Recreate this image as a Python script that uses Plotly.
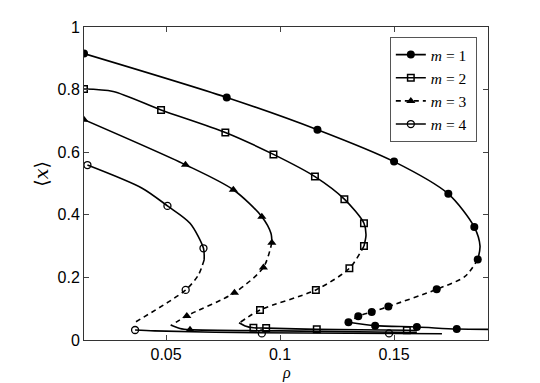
import plotly.graph_objects as go

# ---------------- data ----------------
# m = 1
m1_up_rho = [0.0140, 0.0766, 0.1164, 0.1500, 0.1738, 0.1852, 0.1877, 0.1867]
m1_up_x = [0.915, 0.775, 0.672, 0.570, 0.467, 0.361, 0.300, 0.257]
m1_mid_rho = [0.1867, 0.1811, 0.1687, 0.1475, 0.1402, 0.1343, 0.1300]
m1_mid_x = [0.257, 0.203, 0.162, 0.107, 0.0895, 0.0757, 0.0565]
m1_low_rho = [0.1300, 0.1417, 0.1600, 0.1775, 0.1912]
m1_low_x = [0.0565, 0.0458, 0.0416, 0.0350, 0.0340]
m1_mk_rho = [0.0140, 0.0766, 0.1164, 0.1500, 0.1738, 0.1852, 0.1867,
             0.1687, 0.1475, 0.1402, 0.1343, 0.1300, 0.1417, 0.1600, 0.1775]
m1_mk_x = [0.915, 0.775, 0.672, 0.570, 0.467, 0.361, 0.257,
           0.162, 0.107, 0.0895, 0.0757, 0.0565, 0.0458, 0.0416, 0.0350]

# m = 2
m2_up_rho = [0.0140, 0.0268, 0.0478, 0.0760, 0.0971, 0.1153, 0.1282, 0.1368, 0.1377, 0.1368]
m2_up_x = [0.802, 0.794, 0.735, 0.663, 0.593, 0.522, 0.450, 0.373, 0.336, 0.300]
m2_mid_rho = [0.1368, 0.1304, 0.1157, 0.0912, 0.0822]
m2_mid_x = [0.300, 0.229, 0.160, 0.096, 0.055]
m2_low_rho = [0.0820, 0.0847, 0.0883, 0.0939, 0.1161, 0.1556, 0.1600]
m2_low_x = [0.055, 0.045, 0.039, 0.038, 0.034, 0.031, 0.030]
m2_mk_rho = [0.0140, 0.0478, 0.0760, 0.0971, 0.1153, 0.1282, 0.1368, 0.1368,
             0.1304, 0.1157, 0.0912, 0.0883, 0.0939, 0.1161, 0.1556]
m2_mk_x = [0.802, 0.735, 0.663, 0.593, 0.522, 0.450, 0.373, 0.300,
           0.229, 0.160, 0.096, 0.039, 0.038, 0.034, 0.031]

# m = 3
m3_up_rho = [0.0140, 0.0585, 0.0795, 0.0920, 0.0960, 0.0964]
m3_up_x = [0.704, 0.560, 0.480, 0.394, 0.341, 0.311]
m3_mid_rho = [0.0964, 0.0927, 0.0800, 0.0591, 0.0525]
m3_mid_x = [0.311, 0.232, 0.151, 0.077, 0.048]
m3_low_rho = [0.0520, 0.0561, 0.0605, 0.1000, 0.1600]
m3_low_x = [0.048, 0.037, 0.033, 0.029, 0.024]
m3_mk_rho = [0.0140, 0.0585, 0.0795, 0.0920, 0.0964, 0.0927, 0.0800, 0.0591, 0.0605]
m3_mk_x = [0.704, 0.560, 0.480, 0.394, 0.311, 0.232, 0.151, 0.077, 0.033]

# m = 4
m4_up_rho = [0.0155, 0.0395, 0.0506, 0.0605, 0.0664, 0.0667]
m4_up_x = [0.559, 0.485, 0.4285, 0.373, 0.293, 0.256]
m4_mid_rho = [0.0667, 0.0642, 0.0586, 0.0368]
m4_mid_x = [0.256, 0.208, 0.160, 0.0585]
m4_low_rho = [0.0364, 0.0450, 0.0900, 0.1710]
m4_low_x = [0.032, 0.029, 0.023, 0.020]
m4_mk_rho = [0.0155, 0.0506, 0.0664, 0.0586, 0.0364, 0.0920, 0.1478]
m4_mk_x = [0.559, 0.4285, 0.293, 0.160, 0.032, 0.021, 0.021]

x_ticks = [0.05, 0.1, 0.15]
x_ticklabels = ["0.05", "0.1", "0.15"]
y_ticks = [0, 0.2, 0.4, 0.6, 0.8, 1.0]
y_ticklabels = ["0", "0.2", "0.4", "0.6", "0.8", "1"]
legend_names = ["<i>m</i> = 1\u00a0", "<i>m</i> = 2\u00a0", "<i>m</i> = 3\u00a0", "<i>m</i> = 4\u00a0"]

# ---------------- figure ----------------
fig = go.Figure()
LW = 1.6
DASH = "5px,4px"


def curve(x, y, dash="solid"):
    fig.add_trace(go.Scatter(x=x, y=y, mode="lines", showlegend=False,
                             line=dict(color="black", width=LW, dash=dash,
                                       shape="spline", smoothing=0.8),
                             hoverinfo="skip"))


def marks(x, y, symbol, size, lw):
    fig.add_trace(go.Scatter(x=x, y=y, mode="markers", showlegend=False,
                             marker=dict(symbol=symbol, size=size, color="black",
                                         line=dict(color="black", width=lw)),
                             hoverinfo="skip"))


series = [
    (m1_up_rho, m1_up_x, m1_mid_rho, m1_mid_x, m1_low_rho, m1_low_x, m1_mk_rho, m1_mk_x, "circle", 8, 0),
    (m2_up_rho, m2_up_x, m2_mid_rho, m2_mid_x, m2_low_rho, m2_low_x, m2_mk_rho, m2_mk_x, "square-open", 6.5, 1.5),
    (m3_up_rho, m3_up_x, m3_mid_rho, m3_mid_x, m3_low_rho, m3_low_x, m3_mk_rho, m3_mk_x, "triangle-up", 8, 0),
    (m4_up_rho, m4_up_x, m4_mid_rho, m4_mid_x, m4_low_rho, m4_low_x, m4_mk_rho, m4_mk_x, "circle-open", 7, 1.3),
]
for (ur, ux, mr, mx, lr, lx, kr, kx, sym, sz, mlw) in series:
    curve(ur, ux)
    curve(mr, mx, DASH)
    curve(lr, lx)
    marks(kr, kx, sym, sz, mlw)

legend_dash = ["solid", "solid", DASH, "solid"]
for i, (name, s) in enumerate(zip(legend_names, series)):
    fig.add_trace(go.Scatter(x=[None], y=[None], mode="lines+markers", name=name,
                             line=dict(color="black", width=LW, dash=legend_dash[i]),
                             marker=dict(symbol=s[8], size=s[9], color="black",
                                         line=dict(color="black", width=s[10]))))

axis_common = dict(showline=True, linecolor="#333", linewidth=1, mirror="ticks",
                   ticks="inside", ticklen=5, tickcolor="#444", showgrid=False,
                   zeroline=False, tickfont=dict(family="Liberation Sans", size=16, color="black"))

fig.update_layout(
    width=540, height=383,
    margin=dict(l=84, r=52, t=27, b=43),
    paper_bgcolor="white", plot_bgcolor="white",
    xaxis=dict(range=[0.014, 0.1912], tickvals=x_ticks, ticktext=x_ticklabels, **axis_common),
    yaxis=dict(range=[0, 1], tickvals=y_ticks, ticktext=y_ticklabels, **axis_common),
    legend=dict(x=0.757, y=0.968, xanchor="left", yanchor="top",
                bgcolor="white", bordercolor="#555", borderwidth=1,
                font=dict(family="Liberation Serif", size=15.5, color="black")),
    showlegend=True,
    annotations=[
        dict(text="<i>ρ</i>", x=0.502, y=-0.071, xref="paper", yref="paper",
             xanchor="center", yanchor="top", showarrow=False,
             font=dict(family="Liberation Serif", size=16, color="black")),
        dict(text="⟨<i>x</i>⟩", x=-0.105, y=0.53, xref="paper", yref="paper",
             xanchor="center", yanchor="middle", showarrow=False, textangle=-90,
             font=dict(family="DejaVu Serif", size=19, color="black")),
    ],
)

fig.write_html("out.html", config={"displayModeBar": False},
               post_script="document.body.style.margin='0';document.body.style.overflow='hidden';")
